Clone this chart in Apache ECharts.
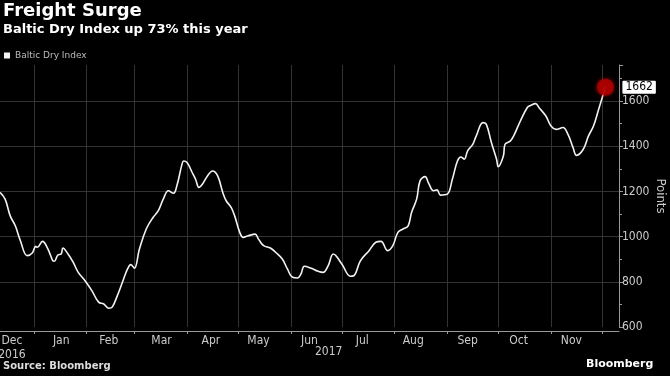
<!DOCTYPE html>
<html>
<head>
<meta charset="utf-8">
<script src="https://cdn.jsdelivr.net/npm/echarts@6/dist/echarts.min.js"></script>
<style>
  html, body { margin: 0; padding: 0; background: #000; }
  #chart { width: 670px; height: 376px; }
</style>
</head>
<body>
<div id="chart"></div>
<script>
// days counted from 2017-01-01 (negative = Dec 2016)
var days = [-20, -17, -14, -11, -8, -4, -1, 1, 2, 5, 8, 11, 12, 14, 16, 17, 20, 23, 26, 30,
    34, 38, 41, 44, 46, 49, 52, 55, 57, 59, 62, 66, 70, 73, 76, 79, 82, 84, 87, 88,
    90, 93, 95, 97, 99, 102, 105, 108, 111, 113, 116, 118, 121, 123, 126, 130, 132, 135, 139, 142,
    146, 149, 152, 155, 157, 159, 163, 167, 170, 173, 176, 181, 186, 188, 192, 197, 201, 204, 208, 211,
    214, 217, 220, 222, 225, 227, 230, 232, 235, 237, 239, 243, 246, 249, 251, 253, 255, 258, 260, 264,
    266, 269, 272, 273, 276, 277, 280, 282, 286, 290, 292, 295, 297, 301, 304, 307, 311, 314, 317, 319,
    323, 326, 329, 332, 336];
var bdi = [1196, 1166, 1092, 1048, 982, 916, 928, 957, 953, 979, 948, 894, 891, 919, 923, 950, 923, 887, 842, 805,
    761, 710, 702, 683, 688, 739, 798, 857, 876, 860, 945, 1034, 1085, 1114, 1166, 1203, 1192, 1225, 1320, 1335,
    1328, 1284, 1254, 1218, 1232, 1269, 1291, 1269, 1196, 1159, 1129, 1092, 1019, 997, 1004, 1011, 989, 960, 950, 931,
    901, 857, 820, 817, 835, 869, 860, 847, 842, 872, 923, 879, 825, 827, 894, 938, 975, 979, 938, 960,
    1019, 1034, 1048, 1107, 1166, 1247, 1266, 1237, 1203, 1207, 1184, 1188, 1254, 1335, 1353, 1343, 1380, 1409, 1445, 1505,
    1497, 1416, 1343, 1310, 1357, 1409, 1423, 1445, 1512, 1571, 1581, 1589, 1571, 1534, 1490, 1475, 1483, 1453, 1394, 1360,
    1387, 1445, 1490, 1563, 1662];

var monthStarts = ["2017-01-01", "2017-02-01", "2017-03-01", "2017-04-01", "2017-05-01", "2017-06-01",
    "2017-07-01", "2017-08-01", "2017-09-01", "2017-10-01", "2017-11-01", "2017-12-01"];
var labelDates = ["2016-12-19", "2017-01-17", "2017-02-14", "2017-03-17", "2017-04-15", "2017-05-13",
    "2017-06-12", "2017-07-13", "2017-08-12", "2017-09-13", "2017-10-13", "2017-11-13"];
var labelTexts = ["Dec\n2016", "Jan", "Feb", "Mar", "Apr", "May", "Jun", "Jul", "Aug", "Sep", "Oct", "Nov"];
var gridValues = [800, 1000, 1200, 1400, 1600];

var DAY = 86400000;
var t0 = Date.UTC(2017, 0, 1);
var seriesData = days.map(function (d, i) { return [t0 + d * DAY, bdi[i]]; });
var last = seriesData[seriesData.length - 1];
var labelTimes = labelDates.map(function (s) { return new Date(s).getTime(); });
var tickTimes = monthStarts.map(function (s) { return new Date(s).getTime(); });

var font = "'DejaVu Sans Condensed', 'DejaVu Sans', sans-serif";
var gridColor = "#333";

var chart = echarts.init(document.getElementById("chart"));
var option = {
    backgroundColor: "#000",
    animation: false,
    title: {
        text: "Freight Surge",
        subtext: "Baltic Dry Index up 73% this year",
        left: 1,
        top: 0,
        padding: [2, 2],
        itemGap: 3,
        textStyle: { color: "#fff", fontSize: 18, fontWeight: "bold", fontFamily: "DejaVu Sans" },
        subtextStyle: { color: "#fff", fontSize: 13, fontWeight: "bold", fontFamily: "DejaVu Sans" }
    },
    legend: {
        data: ["Baltic Dry Index"],
        left: 4,
        top: 51,
        padding: 0,
        icon: "rect",
        itemWidth: 6,
        itemHeight: 6,
        itemGap: 4,
        textStyle: { color: "#bbb", fontSize: 9, fontFamily: "DejaVu Sans" }
    },
    grid: { left: 0, right: 51, top: 65, bottom: 49, outerBoundsMode: "none", containLabel: false },
    xAxis: {
        type: "value",
        min: t0 - 20 * DAY,
        max: t0 + 344 * DAY,
        offset: 4,
        axisLine: { show: true, lineStyle: { color: "#999" } },
        axisTick: { show: true, customValues: tickTimes, length: 3, lineStyle: { color: "#999" } },
        splitLine: { show: false },
        axisLabel: {
            customValues: labelTimes,
            color: "#ccc",
            fontSize: 12,
            fontFamily: font,
            margin: 3,
            lineHeight: 14,
            hideOverlap: false,
            formatter: function (v) {
                var i = labelTimes.indexOf(v);
                return i >= 0 ? labelTexts[i] : "";
            }
        }
    },
    yAxis: {
        type: "value",
        position: "right",
        min: 600,
        max: 1760,
        interval: 200,
        name: "Points",
        nameLocation: "middle",
        nameRotate: -90,
        nameGap: 35,
        nameMoveOverlap: false,
        nameTextStyle: { color: "#ccc", fontSize: 13, fontFamily: font },
        axisLine: { show: true, lineStyle: { color: "#999" } },
        axisTick: { show: true, length: 4, lineStyle: { color: "#999" } },
        minorTick: { show: true, splitNumber: 2, length: 3, lineStyle: { color: "#999" } },
        splitLine: { show: false },
        axisLabel: {
            color: "#ccc",
            fontSize: 12,
            fontFamily: font,
            margin: 3,
            showMaxLabel: false,
            formatter: function (v) { return String(v); }
        }
    },
    series: [
        {
            name: "Baltic Dry Index",
            type: "line",
            data: seriesData,
            smooth: 0.4,
            showSymbol: false,
            symbol: "none",
            color: "#f2f2f2",
            lineStyle: { color: "#f2f2f2", width: 1.6 },
            endLabel: {
                show: true,
                formatter: function (p) { return p.value[1]; },
                backgroundColor: "#fff",
                color: "#000",
                fontSize: 12,
                fontFamily: font,
                padding: [1, 3, 0, 3],
                borderRadius: 1,
                distance: 17
            },
            markLine: {
                silent: true,
                symbol: "none",
                label: { show: false },
                lineStyle: { color: gridColor, type: "solid", width: 1, opacity: 1 },
                data: tickTimes.map(function (t) { return { xAxis: t }; })
                    .concat(gridValues.map(function (v) { return { yAxis: v }; })),
                z: 1
            },
            markPoint: {
                silent: true,
                symbol: "circle",
                symbolSize: 17,
                label: { show: false },
                itemStyle: { color: "rgba(175,0,0,0.85)", shadowBlur: 4, shadowColor: "rgba(200,0,0,0.8)" },
                data: [{ coord: last }]
            }
        }
    ],
    graphic: [
        {
            type: "text",
            left: 315,
            top: 346,
            style: { text: "2017", fill: "#ccc", font: "12px " + font }
        },
        {
            type: "text",
            left: 3,
            top: 361,
            style: { text: "Source: Bloomberg", fill: "#ddd", font: "bold 10px 'DejaVu Sans'" }
        },
        {
            type: "text",
            left: 586,
            top: 359,
            style: { text: "Bloomberg", fill: "#fff", font: "bold 11px 'DejaVu Sans'" }
        }
    ]
};
chart.setOption(option);
</script>
</body>
</html>
